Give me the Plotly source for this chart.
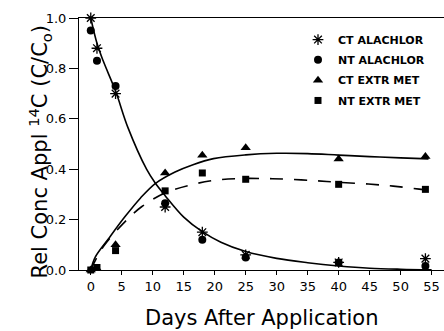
import plotly.graph_objects as go

# Measured data points
days = [0, 1, 4, 12, 18, 25, 40, 54]
ct_alachlor = [1.0, 0.88, 0.70, 0.25, 0.15, 0.06, 0.03, 0.045]
nt_alachlor = [0.95, 0.83, 0.73, 0.265, 0.12, 0.05, 0.03, 0.016]
ct_extr_met = [0.0, 0.005, 0.10, 0.385, 0.455, 0.485, 0.44, 0.45]
nt_extr_met = [0.0, 0.01, 0.077, 0.314, 0.385, 0.36, 0.34, 0.32]

# Fitted curves
decay_x = [0, 1, 2, 4, 6, 9, 10.4, 12, 15, 18, 21, 25, 30, 35, 40, 45, 50, 55]
decay_y = [1.0, 0.9, 0.83, 0.71, 0.565, 0.40, 0.345, 0.295, 0.21, 0.152, 0.11,
           0.073, 0.046, 0.029, 0.016, 0.007, 0.003, 0.001]
ct_fit_x = [0, 0.7, 2.8, 5.5, 8, 10.4, 13.6, 16.5, 19.8, 25, 30, 35, 40, 45, 50, 54.5]
ct_fit_y = [0.0, 0.05, 0.122, 0.211, 0.285, 0.343, 0.389, 0.418, 0.442, 0.457,
            0.463, 0.462, 0.456, 0.45, 0.445, 0.441]
nt_fit_x = [0, 2, 5.5, 8.2, 12, 16, 20, 24, 28, 32, 36.4, 40, 44.8, 48.8, 53, 54]
nt_fit_y = [0.0, 0.092, 0.191, 0.251, 0.306, 0.337, 0.356, 0.363, 0.363, 0.36,
            0.354, 0.348, 0.341, 0.333, 0.321, 0.318]

x_ticks = [0, 5, 10, 15, 20, 25, 30, 35, 40, 45, 50, 55]
y_ticks = [0.0, 0.2, 0.4, 0.6, 0.8, 1.0]
y_tick_labels = ["0.0", "0.2", "0.4", "0.6", "0.8", "1.0"]

FONT = "DejaVu Sans"

fig = go.Figure()

# curves
fig.add_trace(go.Scatter(x=decay_x, y=decay_y, mode="lines", line=dict(color="black", width=1.6, shape="spline"),
                         showlegend=False, hoverinfo="skip"))
fig.add_trace(go.Scatter(x=ct_fit_x, y=ct_fit_y, mode="lines", line=dict(color="black", width=1.6, shape="spline"),
                         showlegend=False, hoverinfo="skip"))
fig.add_trace(go.Scatter(x=nt_fit_x, y=nt_fit_y, mode="lines",
                         line=dict(color="black", width=1.6, shape="spline", dash="13px,11px"),
                         showlegend=False, hoverinfo="skip"))

# markers
fig.add_trace(go.Scatter(x=days, y=ct_alachlor, mode="markers", name="CT ALACHLOR", legendgroup="a",
                         marker=dict(symbol="asterisk-open", size=9, color="black", line=dict(color="black", width=1.3)),
                         cliponaxis=False))
fig.add_trace(go.Scatter(x=days, y=nt_alachlor, mode="markers", name="NT ALACHLOR", legendgroup="b",
                         marker=dict(symbol="circle", size=8, color="black"), cliponaxis=False))
fig.add_trace(go.Scatter(x=days, y=ct_extr_met, mode="markers", name="CT EXTR MET", legendgroup="c",
                         marker=dict(symbol="triangle-up", size=9, color="black"), cliponaxis=False))
fig.add_trace(go.Scatter(x=days, y=nt_extr_met, mode="markers", name="NT EXTR MET", legendgroup="d",
                         marker=dict(symbol="square", size=7, color="black"), cliponaxis=False))

fig.update_layout(
    width=444, height=331,
    margin=dict(l=79, r=0, t=18, b=61),
    paper_bgcolor="white", plot_bgcolor="white",
    font=dict(family=FONT, color="black", size=13),
    legend=dict(x=0.6, xanchor="left", y=0.972, yanchor="top",
                font=dict(family="DejaVu Sans", size=11, color="black", weight="bold"),
                bgcolor="rgba(0,0,0,0)", tracegroupgap=1.3, itemwidth=30),
    xaxis=dict(range=[-1.9, 57.0], tickvals=x_ticks, ticks="outside", ticklen=4, tickcolor="black",
               showline=True, linecolor="black", linewidth=1, mirror=True, showgrid=False, zeroline=False,
               tickfont=dict(family=FONT, size=13, color="black")),
    yaxis=dict(range=[0, 1.0], tickvals=y_ticks, ticktext=y_tick_labels, ticks="outside", ticklen=9,
               tickcolor="black", showline=True, linecolor="black", linewidth=1, showgrid=False, zeroline=False,
               tickfont=dict(family=FONT, size=13, color="black")),
    annotations=[
        dict(text="Days After Application", xref="paper", yref="paper", x=(262 - 79) / 365, y=-0.19,
             xanchor="center", yanchor="middle", showarrow=False, font=dict(family=FONT, size=21, color="black")),
        dict(text="Rel Conc Appl <sup>14</sup>C (C/C<sub>o</sub>)", xref="paper", yref="paper",
             x=(39 - 79) / 365, y=1 - (151.5 - 18) / 252, xanchor="center", yanchor="middle", textangle=-90,
             showarrow=False, font=dict(family=FONT, size=21, color="black")),
    ],
)

fig.write_html("out.html", config={"displayModeBar": False},
               post_script="document.body.style.margin='0';")
